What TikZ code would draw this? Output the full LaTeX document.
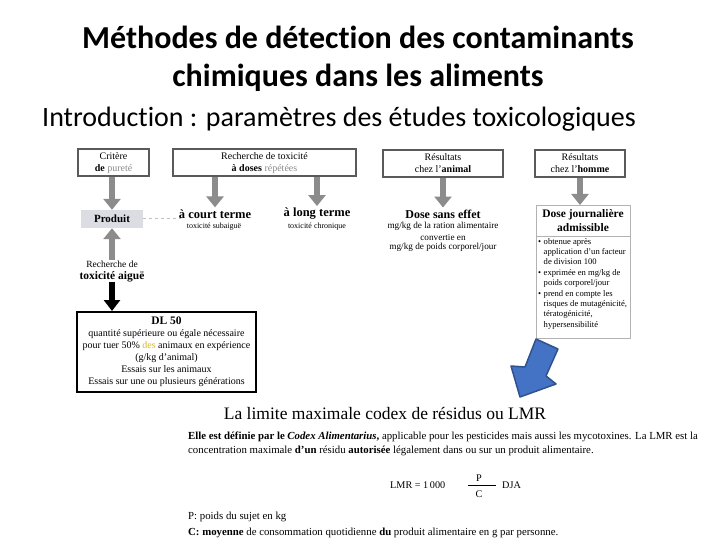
\documentclass[tikz,border=0pt]{standalone}
\usepackage{fontspec}
\setmainfont{Liberation Serif}
\newfontfamily\calibri[Ligatures=NoCommon]{Carlito}
\usetikzlibrary{arrows.meta}
\definecolor{boxgrey}{HTML}{5A5A5A}
\definecolor{arrgrey}{HTML}{8C8C8C}
\definecolor{lightgrey}{HTML}{8A8A8A}
\definecolor{prodfill}{HTML}{DCDDE3}
\definecolor{blueA}{HTML}{4472C4}
\definecolor{blueB}{HTML}{2F528F}
\definecolor{hl}{HTML}{D9B81E}
\begin{document}
\begin{tikzpicture}[x=1pt,y=-1pt,
  topbox/.style={draw=boxgrey, line width=2pt, minimum height=27pt, align=center, inner sep=1pt, font=\fontsize{10}{12}\selectfont},
  greyarr/.style={draw=arrgrey, line width=6.5pt, -{Triangle[width=17pt,length=11pt]}},
  blackarr/.style={draw=black, line width=5.5pt, -{Triangle[width=16pt,length=11pt]}},
  txt/.style={inner sep=0pt, align=center},
  boldlbl/.style={txt, font=\bfseries\fontsize{12.5}{14}\selectfont},
  smalllbl/.style={txt, font=\fontsize{8}{10}\selectfont},
  dsetxt/.style={txt, font=\fontsize{9.2}{10}\selectfont},
  bodytxt/.style={anchor=base west, inner sep=0pt, font=\fontsize{10.8}{13}\selectfont},
  formtxt/.style={inner sep=0pt, font=\fontsize{10.2}{12}\selectfont},
]
\useasboundingbox (0,0) rectangle (720,540);

% titles
\node[anchor=base, inner sep=0pt, font=\calibri\bfseries\fontsize{32}{38}\selectfont] (t1) at (358,49) {Méthodes de détection des contaminants};
\node[anchor=base, inner sep=0pt, font=\calibri\bfseries\fontsize{32}{38}\selectfont] (t2) at (358,87) {chimiques dans les aliments};
\node[anchor=base west, inner sep=0pt, font=\calibri\fontsize{28}{34}\selectfont] (intro) at (42,127) {Introduction : paramètres des études toxicologiques};

% top boxes
\node[topbox, minimum width=71pt] (crit) at (113.5,163) {Critère\\ \textbf{de} \textcolor{lightgrey}{pureté}};
\node[topbox, minimum width=183pt] (rech) at (264.5,163) {Recherche de toxicité\\ \textbf{à doses} \textcolor{lightgrey}{répétées}};
\node[topbox, minimum width=120pt] (anim) at (443,163.5) {Résultats\\ chez l'\textbf{animal}};
\node[topbox, minimum width=90pt] (homme) at (580,163.5) {Résultats\\ chez l'\textbf{homme}};

% second row
\node[fill=prodfill, minimum width=62pt, minimum height=18pt, inner sep=0pt, font=\bfseries\fontsize{11}{13}\selectfont] (prod) at (112,219) {Produit};
\node[boldlbl] (court) at (215,214) {à court terme};
\node[smalllbl] (courts) at (214,226.5) {toxicité subaiguë};
\node[boldlbl] (long) at (317,214) {à long terme};
\node[smalllbl] (longs) at (317,226.5) {toxicité chronique};
\node[txt, font=\bfseries\fontsize{12}{13}\selectfont] (dse) at (443,214) {Dose sans effet};
\node[dsetxt] (dse1) at (443,226.5) {mg/kg de la ration alimentaire};
\node[dsetxt] (dse2) at (443,237) {convertie en};
\node[dsetxt] (dse3) at (443,247.5) {mg/kg de poids corporel/jour};

% DJA box
\node[draw=black!30, line width=1pt, minimum width=94pt, minimum height=133pt, anchor=north, inner sep=0pt] (dja) at (583,205) {};
\node[txt, font=\bfseries\fontsize{11.5}{14}\selectfont] (djat) at (583,221) {Dose journalière\\admissible};
\draw[black!30, line width=0.8pt] (dja.west |- 0,236) -- (dja.east |- 0,236);
\node[txt, align=left, anchor=north west, font=\fontsize{8.6}{10.4}\selectfont] (djab) at (538,238)
 {\makebox[5.5pt][l]{\textbullet}obtenue après\\
  \hspace*{5.5pt}application d'un facteur\\
  \hspace*{5.5pt}de division 100\\
  \makebox[5.5pt][l]{\textbullet}exprimée en mg/kg de\\
  \hspace*{5.5pt}poids corporel/jour\\
  \makebox[5.5pt][l]{\textbullet}prend en compte les\\
  \hspace*{5.5pt}risques de mutagénicité,\\
  \hspace*{5.5pt}tératogénicité,\\
  \hspace*{5.5pt}hypersensibilité};

% acute toxicity
\node[txt, font=\fontsize{9.5}{11}\selectfont] (rtaA) at (112,264) {Recherche de};
\node[txt, font=\bfseries\fontsize{11.5}{13}\selectfont] (rtaB) at (112,277) {toxicité aiguë};
\node[draw, line width=2pt, minimum width=179pt, minimum height=80pt, anchor=north, align=center, inner sep=1pt, font=\fontsize{10}{12}\selectfont] (dl) at (166.5,311)
 {{\bfseries\fontsize{11.5}{12}\selectfont DL 50}\\
  quantité supérieure ou égale nécessaire\\
  pour tuer 50\% \textcolor{hl}{des} animaux en expérience\\
  (g/kg d'animal)\\
  Essais sur les animaux\\
  Essais sur une ou plusieurs générations};

% arrows
\draw[greyarr] (prod.north |- crit.south) -- (prod.north);
\draw[greyarr] (court.north |- rech.south) -- ([yshift=2pt]court.north);
\draw[greyarr] (long.north |- rech.south) -- ([yshift=2pt]long.north);
\draw[greyarr] (anim.south) -- ([yshift=2pt]dse.north);
\draw[greyarr] (homme.south) -- (dja.north -| homme.south);
\draw[greyarr] (rtaA.north) -- (rtaA.north |- prod.south);
\draw[blackarr] (rtaB.south) -- (rtaB.south |- dl.north);
\draw[dashed, black!25, line width=1pt, shorten >=6pt] (prod.east) -- (courts.west |- prod.east);

% blue arrow
\draw[fill=blueA, draw=blueB, line width=1.5pt, line join=round]
  (536,339) -- (558,349) -- (546,376) -- (556,384) -- (520,397) -- (511,366) -- (525,367) -- cycle;

% LMR section
\begin{scope}
\clip (0,0) rectangle (720,540);
\node[inner sep=0pt, font=\fontsize{17.5}{20}\selectfont] (lmrt) at (385,413) {La limite maximale codex de résidus ou LMR};
\node[bodytxt] (l1) at (188,439) {\textbf{Elle est définie par le} \textbf{\textit{Codex Alimentarius},} applicable pour les pesticides mais aussi les mycotoxines. La LMR est la};
\node[bodytxt] (l2) at (188,453) {concentration maximale \textbf{d'un} résidu \textbf{autorisée} légalement dans ou sur un produit alimentaire.};
\node[bodytxt, font=\fontsize{10.2}{12}\selectfont] (lmr) at (390,488) {LMR = 1\,000};
\node[formtxt] (P) at (479,478) {P};
\node[formtxt] (C) at (479,494) {C};
\coordinate (fl) at (468,485);
\coordinate (fr) at (496,485);
\draw[line width=0.6pt] (fl) -- (fr);
\node[bodytxt, font=\fontsize{10.2}{12}\selectfont] (djaf) at (502,488) {DJA};
\node[bodytxt] (pl) at (188,519) {P: poids du sujet en kg};
\node[bodytxt] (cl) at (188,535) {\textbf{C: moyenne} de consommation quotidienne \textbf{du} produit alimentaire en g par personne.};
\end{scope}
\end{tikzpicture}
\end{document}
